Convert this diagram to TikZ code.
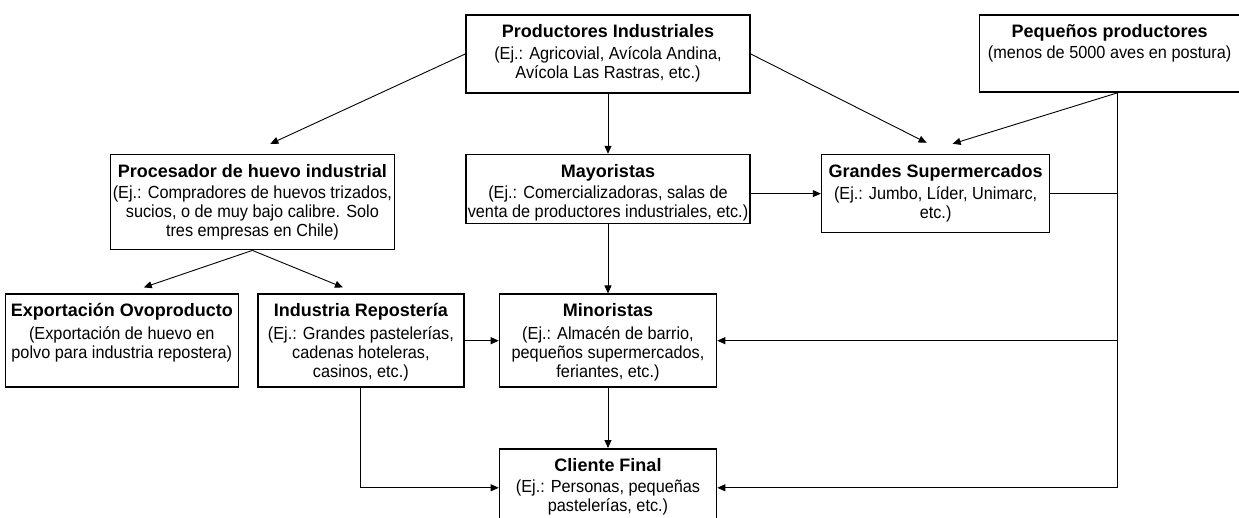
\documentclass[tikz,border=0pt]{standalone}
\usepackage{fontspec}
\setmainfont{Liberation Sans}
\newfontfamily\cuerpo{Liberation Sans}[FakeStretch=0.93]
\usetikzlibrary{positioning,calc,arrows.meta}
\newcommand{\titulo}{\rmfamily\bfseries\fontsize{18}{21}\selectfont}
\newcommand{\cajatexto}[4]{\parbox[c][#2][t]{#1}{\centering\vspace*{8pt}{\titulo\strut #3}\\[2pt]#4}}

\begin{document}
\begin{tikzpicture}[x=1pt, y=-1pt,
  caja/.style={rectangle, draw, line width=1.6pt, inner sep=0pt,
               font=\cuerpo\fontsize{17.5}{19}\selectfont},
  arrow/.style={-{Triangle[length=8pt,width=7pt]}, line width=0.9pt},
  linea/.style={line width=0.9pt}
]
\useasboundingbox (0,0) rectangle (1239,518);
\clip (0,0) rectangle (1239,518);
\node[caja] (ind) at (608,54) {\cajatexto{284pt}{78pt}{Productores Industriales}{(Ej.: Agricovial, Avícola Andina,\\Avícola Las Rastras, etc.)}};
\node[caja, right=228pt of ind.north east, anchor=north west] (peq) {\cajatexto{260pt}{77pt}{Pequeños productores}{(menos de 5000 aves en postura)}};
\node[caja, below=60pt of ind] (may) {\cajatexto{284pt}{69pt}{Mayoristas}{(Ej.: Comercializadoras, salas de\\venta de productores industriales, etc.)}};
\node[caja, left=70pt of may.north west, anchor=north east] (proc) {\cajatexto{284pt}{95pt}{Procesador de huevo industrial}{(Ej.: Compradores de huevos trizados,\\sucios, o de muy bajo calibre. Solo\\tres empresas en Chile)}};
\node[caja, right=70pt of may.north east, anchor=north west] (gsup) {\cajatexto{228pt}{78pt}{Grandes Supermercados}{(Ej.: Jumbo, Líder, Unimarc,\\etc.)}};
\node[caja, below=69pt of may] (mino) {\cajatexto{217pt}{93pt}{Minoristas}{(Ej.: Almacén de barrio,\\pequeños supermercados,\\feriantes, etc.)}};
\node[caja, left=34pt of mino] (rep) {\cajatexto{206pt}{93pt}{Industria Repostería}{(Ej.: Grandes pastelerías,\\cadenas hoteleras,\\casinos, etc.)}};
\node[caja, left=18pt of rep] (exp) {\cajatexto{233pt}{93pt}{Exportación Ovoproducto}{(Exportación de huevo en\\polvo para industria repostera)}};
\node[caja, below=60pt of mino] (cli) {\cajatexto{217pt}{78pt}{Cliente Final}{(Ej.: Personas, pequeñas\\pastelerías, etc.)}};

\coordinate (tap) at ([xshift=8pt]peq.south);
\draw[arrow] (ind.west) -- ([xshift=18pt,yshift=10pt]proc.north);
\draw[arrow] (ind) -- (may);
\draw[arrow] (ind.east) -- ([xshift=-9pt,yshift=11pt]gsup.north);
\draw[arrow] (tap) -- ([xshift=17pt,yshift=10pt]gsup.north);
\draw[arrow] (may.east |- gsup.west) -- (gsup.west);
\draw[linea] (gsup.east) -- (gsup.east -| tap);
\draw[arrow] (tap) |- (cli.east);
\draw[arrow] (mino.east -| tap) -- (mino.east);
\draw[arrow] (proc.south) -- ([xshift=22pt,yshift=6pt]exp.north);
\draw[arrow] (proc.south) -- ([xshift=-18pt,yshift=6pt]rep.north);
\draw[arrow] (may) -- (mino);
\draw[arrow] (mino) -- (cli);
\draw[arrow] (rep) -- (mino);
\draw[arrow] (rep.south) |- (cli.west);
\end{tikzpicture}
\end{document}
